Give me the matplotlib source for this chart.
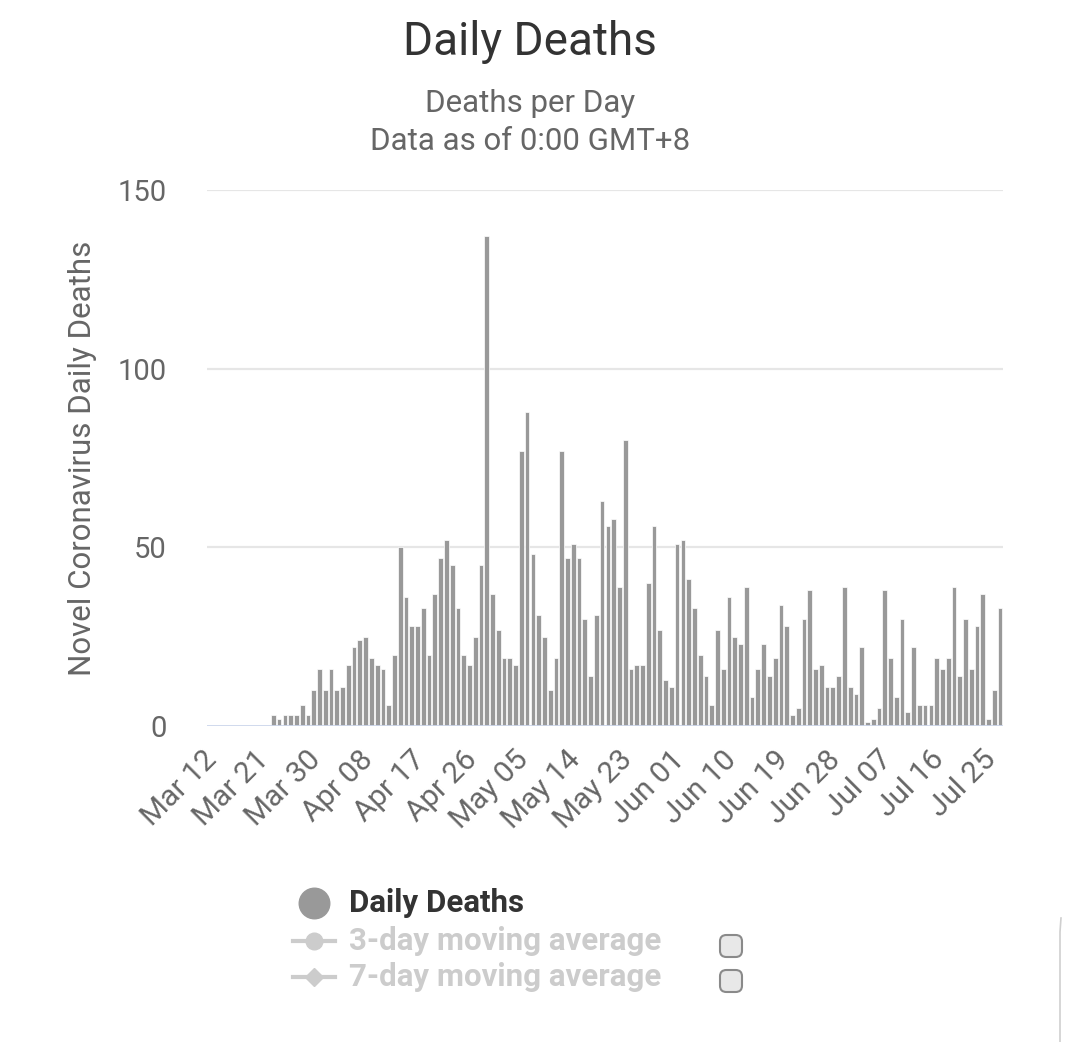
import matplotlib
matplotlib.use("Agg")
import matplotlib.pyplot as plt
from matplotlib.lines import Line2D
from matplotlib.patches import FancyBboxPatch
from matplotlib.transforms import ScaledTranslation
import pandas as pd

plt.rcParams['font.family'] = ['Roboto', 'DejaVu Sans']

# one bar per day, Mar 12 .. Jul 27
dates = pd.date_range('2020-03-12', '2020-07-27', freq='D')
deaths = [
    0, 0, 0, 0, 0, 0, 0, 0, 0, 0, 0,                  # Mar 12 - Mar 22
    3, 2, 3, 3, 3, 6, 3, 10, 16, 10, 16, 10, 11,      # Mar 23 - Apr 04
    17, 22, 24, 25, 19, 17, 16, 6, 20, 50, 36, 28,    # Apr 05 - Apr 16
    28, 33, 20, 37, 47, 52, 45, 33, 20, 17, 25, 45,   # Apr 17 - Apr 28
    137, 37, 27, 19, 19, 17, 77, 88, 48, 31, 25, 10,  # Apr 29 - May 10
    19, 77, 47, 51, 47, 30, 14, 31, 63, 56, 58, 39,   # May 11 - May 22
    80, 16, 17, 17, 40, 56, 27, 13, 11, 51, 52, 41,   # May 23 - Jun 03
    33, 20, 14, 6, 27, 16, 36, 25, 23, 39, 8, 16,     # Jun 04 - Jun 15
    23, 14, 19, 34, 28, 3, 5, 30, 38, 16, 17, 11,     # Jun 16 - Jun 27
    11, 14, 39, 11, 9, 22, 1, 2, 5, 38, 19, 8,        # Jun 28 - Jul 09
    30, 4, 22, 6, 6, 6, 19, 16, 19, 39, 14, 30,       # Jul 10 - Jul 21
    16, 28, 37, 2, 10, 33,                            # Jul 22 - Jul 27
]
tick_every = 9
tick_labels = [d.strftime('%b %d') for d in dates[::tick_every]]
legend_items = ['Daily Deaths', '3-day moving average', '7-day moving average']

W, H = 1067, 1042
fig = plt.figure(figsize=(W / 100, H / 100), dpi=100)


def fx(px):
    return px / W


def fy(py):
    return 1 - py / H


ax = fig.add_axes([fx(207), fy(726), fx(1003) - fx(207), fy(190) - fy(726)])
x = list(range(len(dates)))
ax.bar(x, deaths, width=0.82, color='#999999', edgecolor='white',
       linewidth=0.5, zorder=3)

ax.set_xlim(-0.5, len(dates) - 0.5)
ax.set_ylim(0, 150)
ax.set_yticks([0, 50, 100, 150])
for v in [50, 100, 150]:
    ax.axhline(v, color='#e6e6e6', lw=1.6, zorder=1)
ax.axhline(0, color='#ccd6eb', lw=2, zorder=4)
for s in ax.spines.values():
    s.set_visible(False)

ax.set_xticks(x[::tick_every])
ax.set_xticklabels(tick_labels, rotation=45, ha='right', rotation_mode='anchor')
ax.tick_params(axis='x', length=0, pad=14, labelsize=21.5, labelcolor='#666666')
ax.tick_params(axis='y', length=0, pad=29, labelsize=21, labelcolor='#666666')
# nudge the rotated labels a little left so they end under their bar
shift = ScaledTranslation(-0.07, 0, fig.dpi_scale_trans)
for lab in ax.get_xticklabels():
    lab.set_transform(lab.get_transform() + shift)
ax.set_ylabel('Novel Coronavirus Daily Deaths', fontsize=22.5,
              color='#666666', labelpad=15)

# titles
fig.text(fx(530), fy(42), 'Daily Deaths', ha='center', va='center',
         fontsize=33, color='#333333')
fig.text(fx(530), fy(103), 'Deaths per Day', ha='center', va='center',
         fontsize=22.5, color='#666666')
fig.text(fx(530), fy(141), 'Data as of 0:00 GMT+8', ha='center', va='center',
         fontsize=22.5, color='#666666')

# legend (drawn by hand, like the Highcharts one)
fig.add_artist(Line2D([fx(314)], [fy(903)], marker='o', markersize=22,
                      color='#999999', transform=fig.transFigure))
fig.text(fx(349), fy(903), legend_items[0], ha='left', va='center',
         fontsize=22.5, fontweight='bold', color='#333333')

rows = [(941, 'o', 12), (977, 'D', 9)]
for (ry, mk, ms), label in zip(rows, legend_items[1:]):
    fig.add_artist(Line2D([fx(293), fx(335)], [fy(ry), fy(ry)], lw=3,
                          color='#cccccc', transform=fig.transFigure))
    fig.add_artist(Line2D([fx(314)], [fy(ry)], marker=mk, markersize=ms,
                          color='#cccccc', transform=fig.transFigure))
    fig.text(fx(349), fy(ry), label, ha='left', va='center',
             fontsize=22.5, fontweight='bold', color='#cccccc')

for cy in [946, 981]:
    box = FancyBboxPatch((fx(720), fy(cy + 11)), fx(22), fy(0) - fy(22),
                         boxstyle='round,pad=0,rounding_size=0.006',
                         transform=fig.transFigure, facecolor='#e8e8e8',
                         edgecolor='#8a8a8a', lw=1.5)
    fig.add_artist(box)

# edge of a card peeking in at the bottom right of the screenshot
fig.add_artist(Line2D([fx(1061), fx(1060), fx(1060)], [fy(918), fy(932), fy(1042)],
                      color='#cfcfcf', lw=1.2, transform=fig.transFigure))

fig.savefig('out.png', dpi=100)
